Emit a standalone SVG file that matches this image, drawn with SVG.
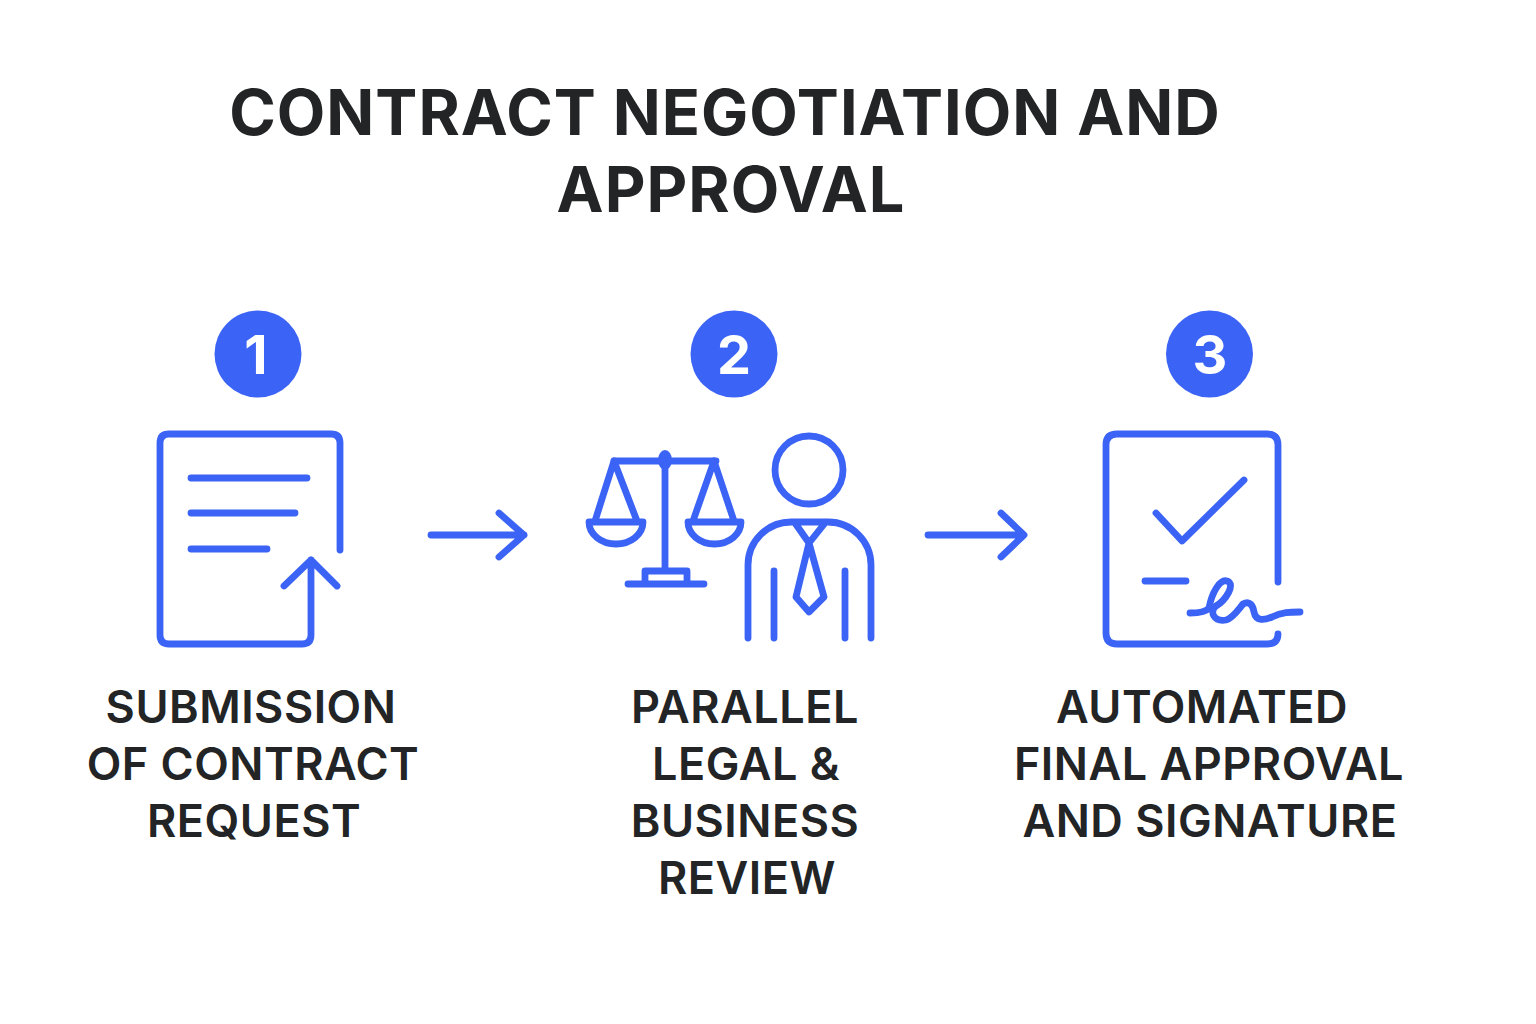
<svg xmlns="http://www.w3.org/2000/svg" width="1536" height="1024" viewBox="0 0 1536 1024">
<style>
.t{font-family:Inter,"Liberation Sans",sans-serif;fill:#222426;text-anchor:middle}
.h{font-size:63px;font-weight:650;letter-spacing:1px}
.l{font-size:45px;font-weight:570;letter-spacing:.5px}
.n{font-family:Inter,"Liberation Sans",sans-serif;font-size:54px;font-weight:700;fill:#fff;text-anchor:middle}
.b{fill:#3b63f5}
.s{fill:none;stroke:#3b63f5;stroke-width:6.8;stroke-linecap:round;stroke-linejoin:round}
</style>
<rect width="1536" height="1024" fill="#fff"/>
<g id="title">
<text class="t h" x="725" y="135">CONTRACT NEGOTIATION AND</text>
<text class="t h" x="731" y="212">APPROVAL</text>
</g>
<g id="connectors">
<path class="s" d="M431 535H524M499 513L524 535L499 557"/>
<path class="s" d="M928 535H1023M1001 513L1024 535L1001 557"/>
</g>
<g id="step1">
<circle class="b" cx="258" cy="354" r="43.500"/>
<text class="n" x="256" y="374">1</text>
<path class="s" d="M340 550V443Q340 434 331 434H169Q160 434 160 443V635Q160 644 169 644H302Q311 644 311 635V560M284 586L311 560L337 586M191 478H307M191 513H295M191 549H267"/>
<text class="t l" x="251" y="723">SUBMISSION</text>
<text class="t l" x="253" y="780">OF CONTRACT</text>
<text class="t l" x="254" y="837">REQUEST</text>
</g>
<g id="step2">
<circle class="b" cx="734" cy="354" r="43.500"/>
<text class="n" x="734" y="374">2</text>
<ellipse class="b" cx="665" cy="460" rx="7" ry="10"/>
<path class="s" d="M614 461H716M665 461V569M645 584V571H687V584M628 584H704"/>
<path class="s" d="M614 461L595 521M614 461L637 521M589 522H643A27 22 0 0 1 589 522Z"/>
<path class="s" d="M714 461L693 521M714 461L734 521M688 522H741A26.500 22 0 0 1 688 522Z"/>
<circle class="s" cx="809" cy="470" r="34"/>
<path class="s" d="M748 638V565A43 43 0 0 1 791 522H828A43 43 0 0 1 871 565V638M774 571V638M845 571V638M795 523L809 543L825 523M809 543L796 597L809 612L824 597Z"/>
<text class="t l" x="745" y="723">PARALLEL</text>
<text class="t l" x="746" y="780">LEGAL &amp;</text>
<text class="t l" x="745" y="837">BUSINESS</text>
<text class="t l" x="747" y="894">REVIEW</text>
</g>
<g id="step3">
<circle class="b" cx="1209.500" cy="354" r="43.500"/>
<text class="n" x="1210" y="374">3</text>
<path class="s" d="M1278 582V445Q1278 434 1267 434H1117Q1106 434 1106 445V633Q1106 644 1117 644H1267Q1278 644 1278 634M1156 513L1182 541L1244 480M1145 581H1186"/>
<path class="s" d="M1190 613C1200 613 1206 612 1209 608C1212 592 1220 579 1227 581C1236 584 1226 600 1216 606C1209 612 1214 622 1226 620C1233 618 1238 610 1243 604C1250 600 1253 606 1254 612C1256 622 1265 620 1272 617C1282 612 1290 612 1300 612"/>
<text class="t l" x="1202" y="723">AUTOMATED</text>
<text class="t l" x="1209" y="780">FINAL APPROVAL</text>
<text class="t l" x="1210" y="837">AND SIGNATURE</text>
</g>
</svg>
